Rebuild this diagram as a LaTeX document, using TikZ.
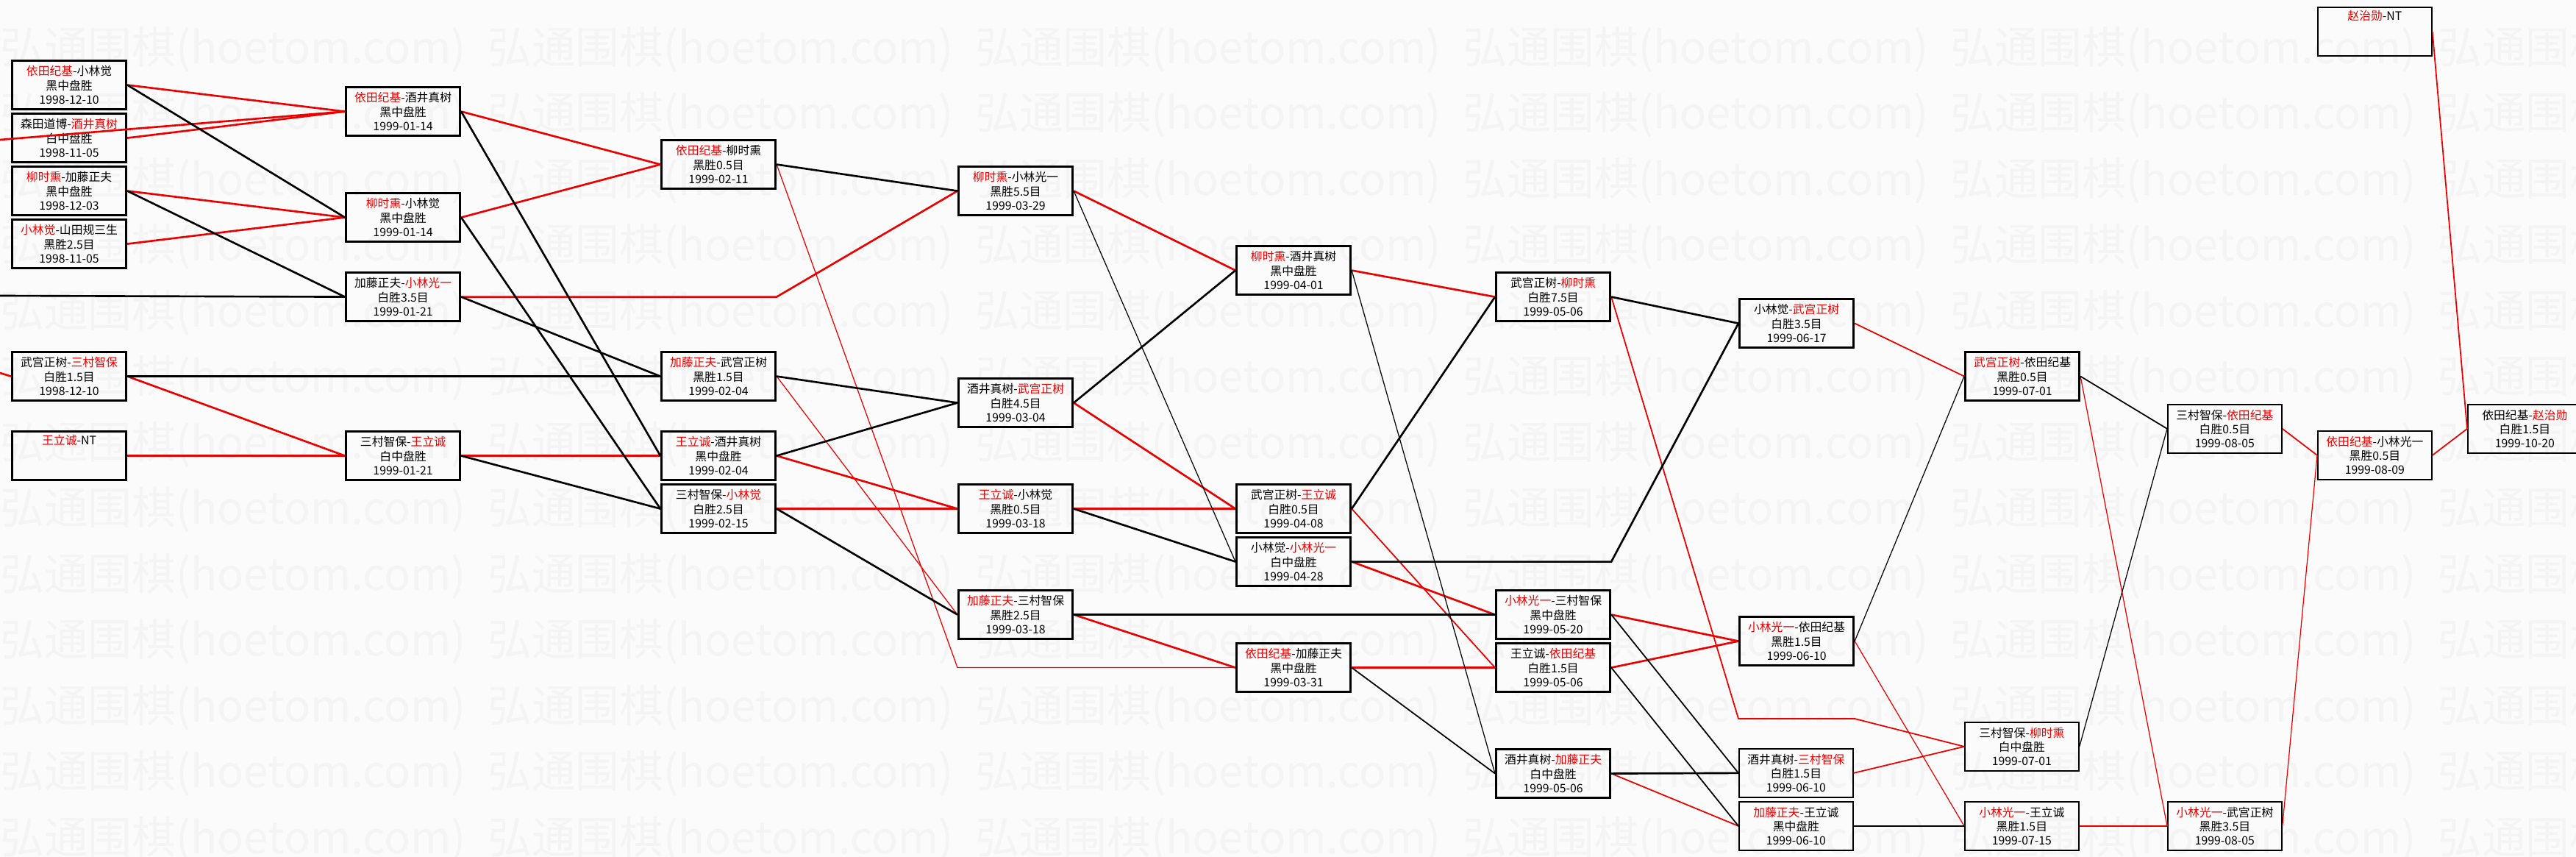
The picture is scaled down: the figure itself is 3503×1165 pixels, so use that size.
\documentclass[tikz,border=0pt]{standalone}
\usepackage{fontspec}
\setmainfont{Noto Sans CJK SC}
\usepackage{tikz}
\usetikzlibrary{positioning,calc}
\definecolor{paper}{RGB}{251,251,251}
\definecolor{winred}{RGB}{235,0,0}
\newcommand{\rn}[1]{\textcolor{winred}{#1}}

\begin{document}
\begin{tikzpicture}[x=0.02cm,y=-0.02cm,
  game/.style={draw,line width=1.8pt,minimum width=3.1cm,minimum height=1.32cm,
    inner sep=0pt,anchor=north west,align=center,font=\fontsize{9pt}{11pt}\selectfont},
  late/.style={game,line width=1pt},
  wmark/.style={anchor=west,inner sep=0pt,text=gray!9,font=\fontsize{34pt}{34pt}\selectfont},
  winthick/.style={winred,line width=1.5pt},
  winmid/.style={winred,line width=1pt},
  winthin/.style={winred,line width=0.7pt},
  losethick/.style={black,line width=1.5pt},
  losemid/.style={black,line width=1pt},
  losethin/.style={black,line width=0.7pt}]
% page
\fill[paper] (0,0) rectangle (3503,1165);
\useasboundingbox (0,0) rectangle (3503,1165);
% watermark
\foreach \r in {0,...,12}
  \foreach \c in {0,...,5}
    \node[wmark] (wm-\r-\c) at ({663*\c},{67+89.5*\r}) {弘通围棋(hoetom.com)};
% round 1
\node[game] (A1) at (15,81) {\rn{依田纪基}-小林觉\\黑中盘胜\\1998-12-10};
\node[game] (A2) at (15,153) {森田道博-\rn{酒井真树}\\白中盘胜\\1998-11-05};
\node[game] (A3) at (15,225) {\rn{柳时熏}-加藤正夫\\黑中盘胜\\1998-12-03};
\node[game] (A4) at (15,297) {\rn{小林觉}-山田规三生\\黑胜2.5目\\1998-11-05};
\node[game] (A5) at (15,477) {武宫正树-\rn{三村智保}\\白胜1.5目\\1998-12-10};
\node[game] (A6) at (15,585) {\rn{王立诚}-NT\\\strut\\\strut};
% round 2
\node[game] (B1) at (469,117) {\rn{依田纪基}-酒井真树\\黑中盘胜\\1999-01-14};
\node[game] (B2) at (469,261) {\rn{柳时熏}-小林觉\\黑中盘胜\\1999-01-14};
\node[game] (B3) at (469,369) {加藤正夫-\rn{小林光一}\\白胜3.5目\\1999-01-21};
\node[game] (B4) at (469,585) {三村智保-\rn{王立诚}\\白中盘胜\\1999-01-21};
% round 3
\node[game] (C1) at (898,189) {\rn{依田纪基}-柳时熏\\黑胜0.5目\\1999-02-11};
\node[game] (C2) at (898,477) {\rn{加藤正夫}-武宫正树\\黑胜1.5目\\1999-02-04};
\node[game] (C3) at (898,585) {\rn{王立诚}-酒井真树\\黑中盘胜\\1999-02-04};
\node[game] (C4) at (898,657) {三村智保-\rn{小林觉}\\白胜2.5目\\1999-02-15};
% round 4
\node[game] (D1) at (1302,225) {\rn{柳时熏}-小林光一\\黑胜5.5目\\1999-03-29};
\node[game] (D2) at (1302,513) {酒井真树-\rn{武宫正树}\\白胜4.5目\\1999-03-04};
\node[game] (D3) at (1302,657) {\rn{王立诚}-小林觉\\黑胜0.5目\\1999-03-18};
\node[game] (D4) at (1302,801) {\rn{加藤正夫}-三村智保\\黑胜2.5目\\1999-03-18};
% round 5
\node[game] (E1) at (1680,333) {\rn{柳时熏}-酒井真树\\黑中盘胜\\1999-04-01};
\node[game] (E2) at (1680,657) {武宫正树-\rn{王立诚}\\白胜0.5目\\1999-04-08};
\node[game] (E3) at (1680,729) {小林觉-\rn{小林光一}\\白中盘胜\\1999-04-28};
\node[game] (E4) at (1680,873) {\rn{依田纪基}-加藤正夫\\黑中盘胜\\1999-03-31};
% round 6
\node[game] (F1) at (2033,369) {武宫正树-\rn{柳时熏}\\白胜7.5目\\1999-05-06};
\node[game] (F2) at (2033,801) {\rn{小林光一}-三村智保\\黑中盘胜\\1999-05-20};
\node[game] (F3) at (2033,873) {王立诚-\rn{依田纪基}\\白胜1.5目\\1999-05-06};
\node[game] (F4) at (2033,1017) {酒井真树-\rn{加藤正夫}\\白中盘胜\\1999-05-06};
% round 7
\node[game] (G1) at (2364,405) {小林觉-\rn{武宫正树}\\白胜3.5目\\1999-06-17};
\node[game] (G2) at (2364,837) {\rn{小林光一}-依田纪基\\黑胜1.5目\\1999-06-10};
\node[late] (G3) at (2364,1017) {酒井真树-\rn{三村智保}\\白胜1.5目\\1999-06-10};
\node[late] (G4) at (2364,1089) {\rn{加藤正夫}-王立诚\\黑中盘胜\\1999-06-10};
% round 8
\node[game] (H1) at (2671,477) {\rn{武宫正树}-依田纪基\\黑胜0.5目\\1999-07-01};
\node[late] (H2) at (2671,981) {三村智保-\rn{柳时熏}\\白中盘胜\\1999-07-01};
\node[late] (H3) at (2671,1089) {\rn{小林光一}-王立诚\\黑胜1.5目\\1999-07-15};
% rounds 9 to 11
\node[late] (I1) at (2947,549) {三村智保-\rn{依田纪基}\\白胜0.5目\\1999-08-05};
\node[late] (I2) at (2947,1089) {\rn{小林光一}-武宫正树\\黑胜3.5目\\1999-08-05};
\node[late] (J0) at (3151,9) {\rn{赵治勋}-NT\\\strut\\\strut};
\node[late] (J1) at (3151,585) {\rn{依田纪基}-小林光一\\黑胜0.5目\\1999-08-09};
\node[late] (K1) at (3355,549) {依田纪基-\rn{赵治勋}\\白胜1.5目\\1999-10-20};
% lines from earlier rounds
\coordinate (inB1) at (0,190);
\coordinate (inB3) at (0,402);
\coordinate (inA5) at (0,507);
\draw[winthick] (inB1) -- (B1.west);
\draw[losethick] (inB3) -- (B3.west);
\draw[winthick] (inA5) -- (A5.west);
% winners' paths
\foreach \a/\b in {A1/B1,A2/B1,A3/B2,A4/B2,A5/B4,A6/B4,B1/C1,B2/C1,B4/C3,C3/D3,
    C4/D3,D1/E1,D2/E2,D3/E2,D4/E4,E1/F1,E3/F2,E4/F3,F2/G2,F3/G2}
  \draw[winthick] (\a.east) -- (\b.west);
\foreach \a/\b in {E2/F3,F4/G4,G1/H1,G3/H2,H3/I2,I1/J1,J1/K1,J0/K1}
  \draw[winmid] (\a.east) -- (\b.west);
\foreach \a/\b in {C2/D4,G2/H3,H1/I2,I2/J1}
  \draw[winthin] (\a.east) -- (\b.west);
\draw[winthick] (B3.east) -- (B3.east -| C1.east) -- (D1.west);
\draw[winthin] (C1.east) -- (D1.west |- E4.west) -- (E4.west);
\coordinate (kink) at (0,977);
\draw[winmid] (F1.east) -- (G1.west |- kink) -- (G1.east |- kink) -- (H2.west);
% losers' paths
\foreach \a/\b in {A1/B2,A3/B3,A5/C2,B1/C3,B2/C4,B3/C2,B4/C4,C1/D1,C2/D2,C3/D2,
    C4/D4,D2/E1,D3/E3,D4/F2,E2/F1,F1/G1,F4/G3}
  \draw[losethick] (\a.east) -- (\b.west);
\foreach \a/\b in {E4/F4,F2/G3,F3/G4,G4/H3,H1/I1}
  \draw[losemid] (\a.east) -- (\b.west);
\foreach \a/\b in {D1/E3,E1/F4,G2/H1,H2/I1}
  \draw[losethin] (\a.east) -- (\b.west);
\draw[losethick] (E3.east) -- (E3.east -| F1.east) -- (G1.west);
\end{tikzpicture}
\end{document}
